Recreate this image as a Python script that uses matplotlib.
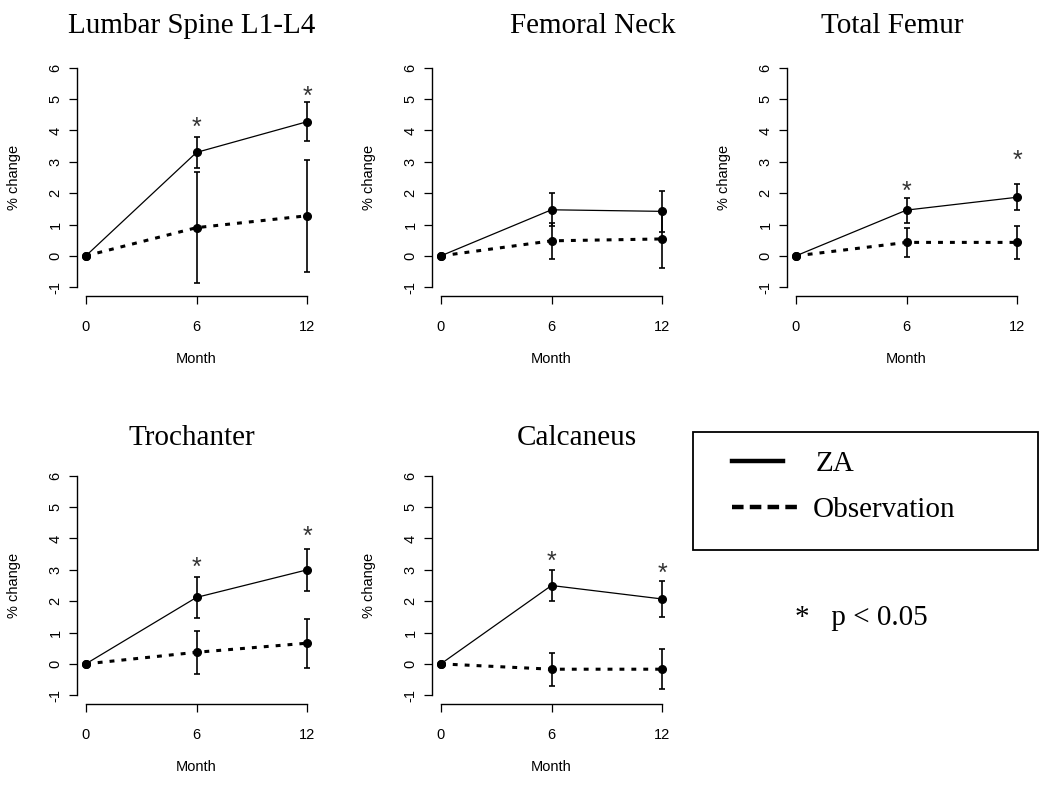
import matplotlib
matplotlib.use('Agg')
import matplotlib.pyplot as plt
from matplotlib.lines import Line2D
from matplotlib.patches import Rectangle

# data
months = [0, 6, 12]
sites = ['Lumbar Spine L1-L4', 'Femoral Neck', 'Total Femur', 'Trochanter', 'Calcaneus']
za_mean = [[0, 3.30, 4.28], [0, 1.47, 1.42], [0, 1.46, 1.87], [0, 2.12, 3.00], [0, 2.50, 2.07]]
za_err = [[0, 0.50, 0.62], [0, 0.52, 0.66], [0, 0.40, 0.41], [0, 0.66, 0.68], [0, 0.51, 0.58]]
obs_mean = [[0, 0.90, 1.28], [0, 0.48, 0.54], [0, 0.43, 0.43], [0, 0.37, 0.66], [0, -0.17, -0.17]]
obs_err = [[0, 1.77, 1.78], [0, 0.58, 0.92], [0, 0.45, 0.53], [0, 0.69, 0.78], [0, 0.52, 0.64]]
star_y = [[None, 4.15, 5.14], [None, None, None], [None, 2.10, 3.09], [None, 3.14, 4.12], [None, 3.32, 2.95]]
yticks = [-1, 0, 1, 2, 3, 4, 5, 6]

W, H = 1050, 791
fig = plt.figure(figsize=(W / 100, H / 100), dpi=100)

# panel boxes in pixels: left, top, right, bottom
boxes = [(77, 59, 316, 296), (432, 59, 671, 296), (787, 59, 1026, 296),
         (77, 467, 316, 704), (432, 467, 671, 704)]
# title anchor (center x, baseline y) in pixels
title_pos = [(192, 33), (593, 33), (892, 33), (192, 445), (577, 445)]

sans = 'Liberation Sans'
serif = 'Liberation Serif'

for i, site in enumerate(sites):
    l, t, r, b = boxes[i]
    ax = fig.add_axes([l / W, 1 - b / H, (r - l) / W, (b - t) / H])
    ax.set_xlim(-0.48, 12.48)
    ax.set_ylim(-1.28, 6.28)

    ax.plot(months, obs_mean[i], color='black', lw=2.2, dashes=(1.6, 2.3),
            marker='o', ms=5.5, zorder=3)
    ax.plot(months, za_mean[i], color='black', lw=0.9,
            marker='o', ms=5.5, zorder=3)
    ax.errorbar(months[1:], obs_mean[i][1:], yerr=obs_err[i][1:], fmt='none',
                ecolor='black', elinewidth=1.2, capsize=2.5, capthick=1.2, zorder=2)
    ax.errorbar(months[1:], za_mean[i][1:], yerr=za_err[i][1:], fmt='none',
                ecolor='black', elinewidth=1.2, capsize=2.5, capthick=1.2, zorder=2)

    for m, s in zip(months, star_y[i]):
        if s is not None:
            ax.annotate('*', (m, s), xytext=(0, -1.5), textcoords='offset points',
                        ha='center', va='center', fontsize=18,
                        family=sans, color='#333333')

    for side in ['top', 'right']:
        ax.spines[side].set_visible(False)
    ax.spines['left'].set_bounds(-1, 6)
    ax.spines['bottom'].set_bounds(0, 12)
    for side in ['left', 'bottom']:
        ax.spines[side].set_linewidth(1.0)

    ax.set_xticks(months)
    ax.set_yticks(yticks)
    ax.set_xticklabels([str(m) for m in months], family=sans)
    ax.set_yticklabels([str(v) for v in yticks], family=sans, rotation=90, va='center')
    ax.tick_params(axis='both', direction='out', length=5.5, width=0.9, labelsize=10.5)
    ax.tick_params(axis='x', pad=12)
    ax.tick_params(axis='y', pad=5)
    ax.set_xlabel('Month', family=sans, fontsize=10.5, labelpad=13)
    ax.set_ylabel('% change', family=sans, fontsize=10.5, labelpad=20)

    tx, ty = title_pos[i]
    fig.text(tx / W, 1 - ty / H, site, ha='center', va='baseline',
             family=serif, fontsize=21)

# legend box
fig.add_artist(Rectangle((693 / W, 1 - 550 / H), (1038 - 693) / W, (550 - 432) / H,
                         transform=fig.transFigure, fill=False, lw=1.3, ec='black'))
fig.add_artist(Line2D([732 / W, 783 / W], [1 - 461 / H, 1 - 461 / H],
                      transform=fig.transFigure, color='black', lw=3.2))
fig.add_artist(Line2D([732 / W, 797 / W], [1 - 507 / H, 1 - 507 / H],
                      transform=fig.transFigure, color='black', lw=3.2, dashes=(2.6, 1.4)))
fig.text(816 / W, 1 - 471 / H, 'ZA', ha='left', va='baseline', family=serif, fontsize=21)
fig.text(813 / W, 1 - 517 / H, 'Observation', ha='left', va='baseline', family=serif, fontsize=21)
fig.text(795 / W, 1 - 625 / H, '*   p < 0.05', ha='left', va='baseline', family=serif, fontsize=21)

fig.savefig('out.png', dpi=100, facecolor='white')
